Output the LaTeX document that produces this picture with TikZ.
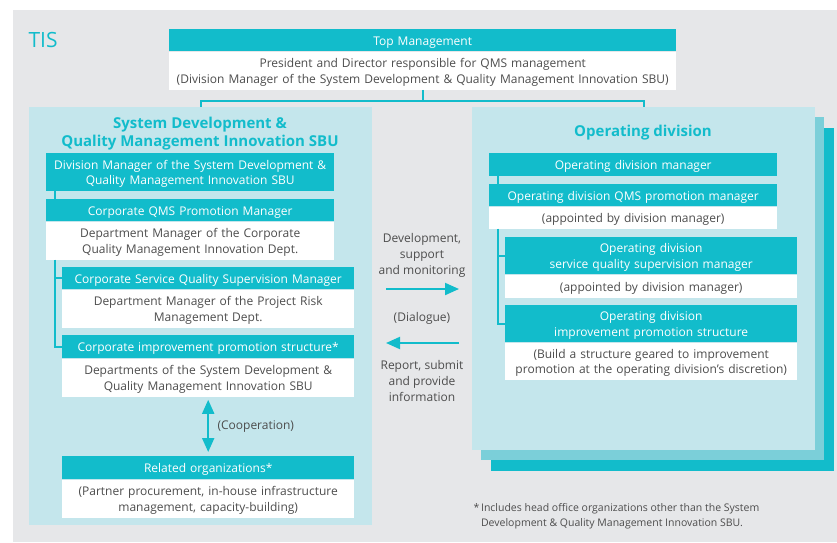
\documentclass[tikz,border=0pt]{standalone}
\usepackage{fontspec}
\setmainfont{Open Sans}
\usetikzlibrary{positioning,arrows.meta}
\definecolor{tisteal}{HTML}{12BCCB}
\definecolor{tispanel}{HTML}{C4E6EC}
\definecolor{tisshade}{HTML}{7BCFD9}
\definecolor{tisgray}{HTML}{E6E7E9}
\definecolor{tistext}{HTML}{4D4D4D}
\newcommand{\topstrut}{\rule{0pt}{14pt}}
\newcommand{\botstrut}{\rule[-4pt]{0pt}{4pt}}

\begin{document}
\begin{tikzpicture}[x=1pt,y=-1pt,font=\fontsize{12}{15.5}\selectfont]
  \tikzstyle{head}=[fill=tisteal,text=white,inner sep=0pt,align=center,anchor=north west,
    execute at begin node=\topstrut,execute at end node=\botstrut]
  \tikzstyle{body}=[fill=white,text=tistext,inner sep=0pt,align=center,
    execute at begin node=\topstrut,execute at end node=\botstrut]
  \tikzstyle{panel}=[fill=tispanel,inner sep=0pt,anchor=north west]
  \tikzstyle{tree}=[tisteal,line width=1.6pt]
  \tikzstyle{flow}=[tisteal,line width=2pt,-{Triangle[length=14pt,width=12pt]}]
  \tikzstyle{note}=[text=tistext,align=center,font=\fontsize{12}{16}\selectfont]
  \useasboundingbox (0,0) rectangle (837,542);
  \fill[tisgray] (13,10) rectangle (837,542);
  \node[text=tisteal,anchor=west,font=\fontsize{21}{22}\selectfont] (tis) at (25,40) {TIS};

  % top management
  \node[head,text width=507pt,minimum height=22pt] (top) at (169,29) {Top Management};
  \node[body,text width=507pt,minimum height=38pt,below=0pt of top] (topb)
    {President and Director responsible for QMS management\\(Division Manager of the System Development \& Quality Management Innovation SBU)};

  % panels
  \node[panel,fill=tisteal,minimum width=343pt,minimum height=343pt] (opshade2) at (491,128) {};
  \node[panel,fill=tisshade,minimum width=343pt,minimum height=343pt] (opshade1) at (481,117) {};
  \node[panel,minimum width=343pt,minimum height=343pt] (oppanel) at (472,107) {};
  \node[panel,minimum width=343pt,minimum height=418pt] (sbu) at (29,107) {};
  \coordinate (split) at ([yshift=-11pt]topb.south);
  \draw[tree] (topb.south) -- (split);
  \draw[tree] (sbu.north) |- (split) -| (oppanel.north);

  \node[text=tisteal,font=\fontsize{15}{18}\selectfont\bfseries,align=center] (sbutitle) at (200,134)
    {System Development \&\\Quality Management Innovation SBU};
  \node[text=tisteal,font=\fontsize{15}{18}\selectfont\bfseries] (optitle) at (643,133) {Operating division};

  % SBU side
  \node[head,text width=288pt,minimum height=38pt] (divmgr) at (46,153)
    {Division Manager of the System Development \&\\Quality Management Innovation SBU};
  \node[head,text width=288pt,minimum height=22pt] (qms) at (46,199) {Corporate QMS Promotion Manager};
  \node[body,text width=288pt,minimum height=38pt,below=0pt of qms] (qmsb)
    {Department Manager of the Corporate\\Quality Management Innovation Dept.};
  \node[head,text width=292pt,minimum height=22pt] (svc) at (62,267) {Corporate Service Quality Supervision Manager};
  \node[body,text width=292pt,minimum height=38pt,below=0pt of svc] (svcb)
    {Department Manager of the Project Risk\\Management Dept.};
  \node[head,text width=292pt,minimum height=23pt] (imp) at (62,335) {Corporate improvement promotion structure*};
  \node[body,text width=292pt,minimum height=38pt,below=0pt of imp] (impb)
    {Departments of the System Development \&\\Quality Management Innovation SBU};
  \node[head,text width=292pt,minimum height=23pt] (rel) at (62,456) {Related organizations*};
  \node[body,text width=292pt,minimum height=38pt,below=0pt of rel] (relb)
    {(Partner procurement, in-house infrastructure\\management, capacity-building)};
  \draw[tree] ([xshift=9pt]divmgr.south west) -- ([xshift=9pt]qms.north west);
  \draw[tree] ([xshift=9pt]qmsb.south west) |- (svc.west);
  \draw[tree] ([xshift=9pt]qmsb.south west) |- (imp.west);
  \draw[flow,{Triangle[length=14pt,width=12pt]}-{Triangle[length=14pt,width=12pt]}]
    ([yshift=-3pt]impb.south) -- ([yshift=4pt]rel.north);
  \node[note,anchor=west] (coop) at (214,427) {(Cooperation)};

  % operating division side
  \node[head,text width=288pt,minimum height=23pt] (odmgr) at (489,153) {Operating division manager};
  \node[head,text width=288pt,minimum height=22pt] (odqms) at (489,184) {Operating division QMS promotion manager};
  \node[body,text width=288pt,minimum height=22pt,below=0pt of odqms] (odqmsb) {(appointed by division manager)};
  \node[head,text width=292pt,minimum height=37pt] (odsvc) at (505,237)
    {Operating division\\service quality supervision manager};
  \node[body,text width=292pt,minimum height=23pt,below=0pt of odsvc] (odsvcb) {(appointed by division manager)};
  \node[head,text width=292pt,minimum height=37pt] (odimp) at (505,305)
    {Operating division\\improvement promotion structure};
  \node[body,text width=292pt,minimum height=37pt,below=0pt of odimp] (odimpb)
    {(Build a structure geared to improvement\\promotion at the operating division's discretion)};
  \draw[tree] ([xshift=9pt]odmgr.south west) -- ([xshift=9pt]odqms.north west);
  \draw[tree] ([xshift=9pt]odqmsb.south west) |- (odsvc.west);
  \draw[tree] ([xshift=9pt]odqmsb.south west) |- (odimp.west);

  % dialogue between the two
  \node[note] (dev) at (422,255) {Development,\\support\\and monitoring};
  \node[note] (dlg) at (422,318) {(Dialogue)};
  \node[note] (rep) at (422,381) {Report, submit\\and provide\\information};
  \coordinate (devL) at (386,289);
  \coordinate (devR) at (459,289);
  \coordinate (repL) at (386,343);
  \coordinate (repR) at (459,343);
  \draw[flow] (devL) -- (devR);
  \draw[flow] (repR) -- (repL);

  \node[text=tistext,align=left,anchor=north west,font=\fontsize{10.5}{15}\selectfont] (foot) at (470,500)
    {*\,Includes head office organizations other than the System\\\hphantom{*\,}Development \& Quality Management Innovation SBU.};
\end{tikzpicture}
\end{document}
